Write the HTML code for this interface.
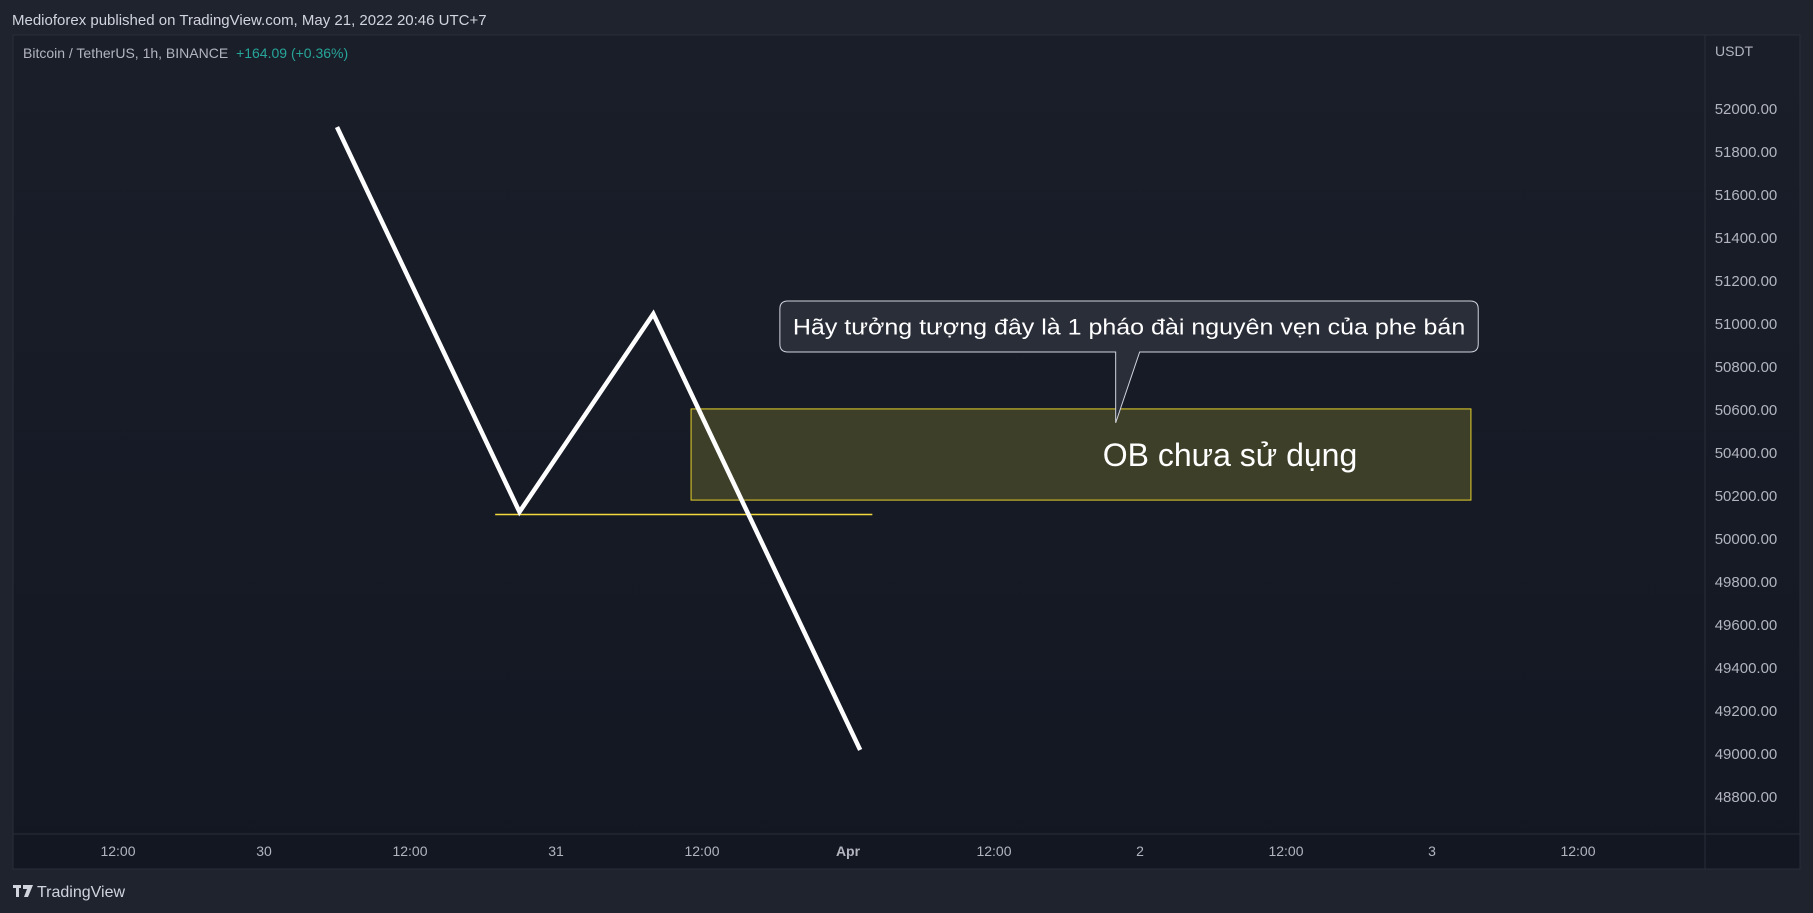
<!DOCTYPE html>
<html><head><meta charset="utf-8"><style>
html,body{margin:0;padding:0;background:#1f232e;width:1813px;height:913px;overflow:hidden}
svg{display:block;font-family:"Liberation Sans","DejaVu Sans",sans-serif}
</style></head><body>
<svg id="chart" width="1813" height="913" viewBox="0 0 1813 913">
<defs><linearGradient id="bg" x1="0" y1="0" x2="0" y2="1"><stop offset="0" stop-color="#1a1e29"/><stop offset="1" stop-color="#131722"/></linearGradient></defs>
<rect x="0" y="0" width="1813" height="913" fill="#1f232e"/>
<text x="12" y="25" fill="#d1d4dc" font-size="15">Medioforex published on TradingView.com, May 21, 2022 20:46 UTC+7</text>
<rect x="13" y="35" width="1787" height="834" fill="url(#bg)" stroke="#2a2e39"/>
<line x1="1705" y1="35" x2="1705" y2="869" stroke="#2a2e39"/>
<line x1="13" y1="834" x2="1800" y2="834" stroke="#2a2e39"/>
<text x="23" y="58" font-size="14" fill="#b2b5be">Bitcoin / TetherUS, 1h, BINANCE <tspan fill="#26a69a" dx="4">+164.09 (+0.36%)</tspan></text>
<text x="1715" y="56" font-size="14" fill="#b2b5be">USDT</text>
<g id="yticks"></g><g id="xticks"></g>
<g id="marks"></g>
<g>
<rect x="13" y="885" width="8" height="3" fill="#d1d4dc"/><rect x="16" y="885" width="3" height="12" fill="#d1d4dc"/><polygon points="23,885 33,885 28,897 24,897 27,889 23,889" fill="#d1d4dc"/>
<text x="37" y="897" font-size="16" fill="#d1d4dc">TradingView</text></g>
</svg>
<script>
const yTickValues=[52200,52000,51800,51600,51400,51200,51000,50800,50600,50400,50200,50000,49800,49600,49400,49200,49000,48800];
const xTickHours=[12,24,36,48,60,72,84,96,108,120,132];
const xTickLabels=["12:00","30","12:00","31","12:00","Apr","12:00","2","12:00","3","12:00"];
const lineHours=[30,45,56,73];
const linePrices=[51916,50126,51047,49019];
const levelHours=[43,74];
const levelPrice=50114;
const boxHours=[59.1,123.2];
const boxPrices=[50605,50181];
const calloutHour=[66.4,123.8];
const calloutPrice=[51107,50870];
const calloutTip=[94,50540];
const NS="http://www.w3.org/2000/svg";
const X=h=>118+(h-12)*146/12;
const Y=p=>109+(52000-p)/200*43;
function mk(tag,attrs,parent,txt){const e=document.createElementNS(NS,tag);for(const k in attrs)e.setAttribute(k,attrs[k]);if(txt!==undefined)e.textContent=txt;parent.appendChild(e);return e;}
const yg=document.getElementById('yticks');
yTickValues.forEach(v=>{const y=Y(v);if(y<75)return;const t=mk('text',{x:1746,y:y+5,'font-size':15,fill:'#b2b5be','text-anchor':'middle'},yg,v.toFixed(2));

});
const xg=document.getElementById('xticks');
xTickHours.forEach((h,i)=>{const t=mk('text',{x:X(h),y:856,'font-size':14,fill:'#b2b5be','text-anchor':'middle','font-weight':xTickLabels[i]==='Apr'?'bold':'normal'},xg,xTickLabels[i]);

});
const g=document.getElementById('marks');
const clip=mk('clipPath',{id:'pc'},g);mk('rect',{x:13,y:35,width:1692,height:799},clip);
const cg=mk('g',{'clip-path':'url(#pc)'},g);
const box=mk('rect',{x:X(boxHours[0]),y:Y(boxPrices[0]),width:X(boxHours[1])-X(boxHours[0]),height:Y(boxPrices[1])-Y(boxPrices[0]),fill:'#3e3f29',stroke:'#e6d12a','stroke-width':1},cg);


const lvl=mk('line',{x1:X(levelHours[0]),x2:X(levelHours[1]),y1:Y(levelPrice),y2:Y(levelPrice),stroke:'#f5d93a','stroke-width':1.5},cg);


const pl=mk('polyline',{points:lineHours.map((h,i)=>X(h)+','+Y(linePrices[i])).join(' '),fill:'none',stroke:'#ffffff','stroke-width':4.5,'stroke-linejoin':'miter'},cg);


const ot=mk('text',{x:1230,y:466,'font-size':32,fill:'#ffffff','text-anchor':'middle'},cg,'OB chưa sử dụng');


const cx0=X(calloutHour[0]),cx1=X(calloutHour[1]),cy0=Y(calloutPrice[0]),cy1=Y(calloutPrice[1]),tx=X(calloutTip[0]),ty=Y(calloutTip[1]);
const cb=mk('path',{d:`M${cx0+8},${cy0} H${cx1-8} Q${cx1},${cy0} ${cx1},${cy0+8} V${cy1-8} Q${cx1},${cy1} ${cx1-8},${cy1} H${tx+24} L${tx},${ty} L${tx},${cy1} H${cx0+8} Q${cx0},${cy1} ${cx0},${cy1-8} V${cy0+8} Q${cx0},${cy0} ${cx0+8},${cy0} Z`,fill:'#2a2e39',stroke:'#d1d4dc','stroke-width':1},cg);


const ct=mk('text',{x:(cx0+cx1)/2,y:(cy0+cy1)/2+8,'font-size':22,fill:'#ffffff','text-anchor':'middle',textLength:(cx1-cx0-26),lengthAdjust:'spacingAndGlyphs'},cg,'Hãy tưởng tượng đây là 1 pháo đài nguyên vẹn của phe bán');


</script>
</body></html>
